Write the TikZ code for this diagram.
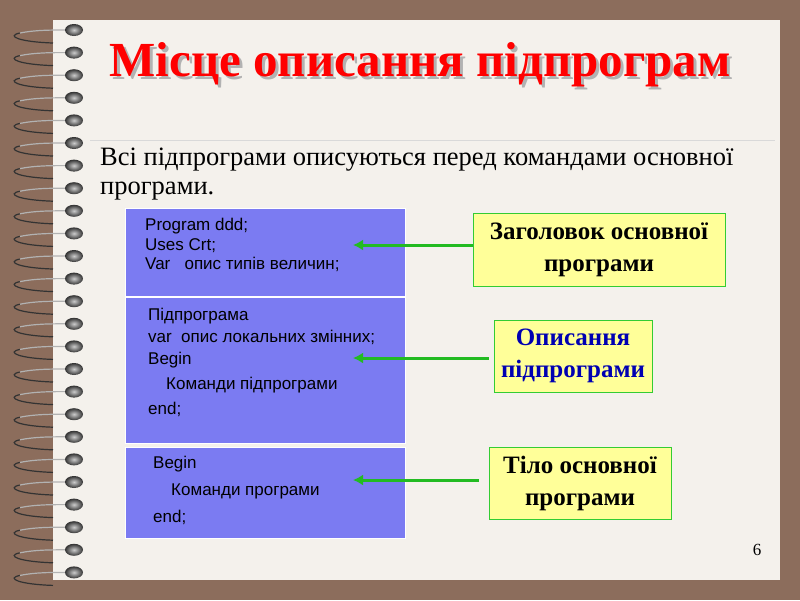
\documentclass[tikz,border=0pt]{standalone}
\usepackage{fontspec}
\setmainfont{Liberation Serif}
\newfontfamily\arial{Liberation Sans}
\begin{document}
\begin{tikzpicture}[x=1pt,y=-1pt,
  bluebox/.style={fill=blueF,draw=white,line width=1pt},
  label/.style={draw=greenB,fill=yellowF,line width=0.8pt,align=center,font=\fontsize{25}{32}\selectfont\bfseries,inner sep=0pt},
  arr/.style={draw=greenA,line width=3pt,-{Latex[length=10pt,width=11pt]}},
  btext/.style={anchor=north west,align=left,font=\arial\fontsize{17}{19.5}\selectfont,inner sep=0pt}]
\usetikzlibrary{arrows.meta}
\definecolor{bg}{HTML}{8C6D5C}
\definecolor{paper}{HTML}{F4F1EC}
\definecolor{blueF}{HTML}{7B7BF2}
\definecolor{greenB}{HTML}{33CC33}
\definecolor{greenA}{HTML}{22BB22}
\definecolor{yellowF}{HTML}{FFFF99}
\definecolor{titleR}{HTML}{FF0000}
\useasboundingbox (0,0) rectangle (800,600);
\fill[bg] (0,0) rectangle (800,600);
\fill[paper] (53,20) rectangle (780,580);
% spiral
\foreach \i in {0,...,24}{
  \pgfmathsetmacro\yy{30+22.6*\i}
  \draw[black!80,line width=1.2pt] (53,\yy+13) .. controls (20,\yy+12) and (5,\yy+6) .. (20,\yy+3);
  \draw[gray!60,line width=1.2pt] (20,\yy+3) .. controls (35,\yy) and (50,\yy) .. (68,\yy);
  \shade[inner color=gray!40,outer color=black!80] (74,\yy) ellipse (9 and 6);
}
% title
\node[font=\fontsize{49}{50}\selectfont\bfseries,text=gray!60] at (423,68) {Місце описання підпрограм};
\node[font=\fontsize{49}{50}\selectfont\bfseries,text=titleR] (title) at (420,65) {Місце описання підпрограм};
\draw[gray!30,line width=0.8pt] (90,140) -- (775,140);
\node[anchor=north west,align=left,font=\fontsize{26.5}{29}\selectfont,inner sep=0pt] (intro) at (100,148)
  {Всі підпрограми описуються перед командами основної\\ програми.};
% blue boxes
\node[bluebox,minimum width=280,minimum height=88,anchor=north west] (b1) at (125,208) {};
\node[bluebox,minimum width=280,minimum height=146,anchor=north west] (b2) at (125,297) {};
\node[bluebox,minimum width=280,minimum height=91,anchor=north west] (b3) at (125,447) {};
\node[btext] (t1) at (145,218) {Program ddd;\\Uses Crt;\\Var \ \ опис типів величин;};
\node[btext,font=\arial\fontsize{17}{22}\selectfont] (t2) at (148,308) {Підпрограма\\var \ опис локальних змінних;\\Begin\\[3pt]\hspace{18pt}Команди підпрограми\\[3pt]end;};
\node[btext,font=\arial\fontsize{17}{27}\selectfont] (t3) at (153,456) {Begin\\\hspace{18pt}Команди програми\\end;};
% labels
\node[label,minimum width=252,minimum height=73] (l1) at (599,250) {Заголовок основної\\програми};
\node[label,text=blue!70!black,minimum width=158,minimum height=72] (l2) at (573,356) {Описання\\підпрограми};
\node[label,minimum width=182,minimum height=72] (l3) at (580,483) {Тіло основної\\програми};
\coordinate (a1) at (353,245);
\coordinate (a2) at (353,358);
\coordinate (a3) at (353,480);
\draw[arr] (l1.west|-a1) -- (a1);
\draw[arr] (l2.west|-a2) ++(-5,0) -- (a2);
\draw[arr] (l3.west|-a3) ++(-10,0) -- (a3);
\node[font=\fontsize{17}{18}\selectfont] (pg) at (757,550) {6};
\end{tikzpicture}
\end{document}
